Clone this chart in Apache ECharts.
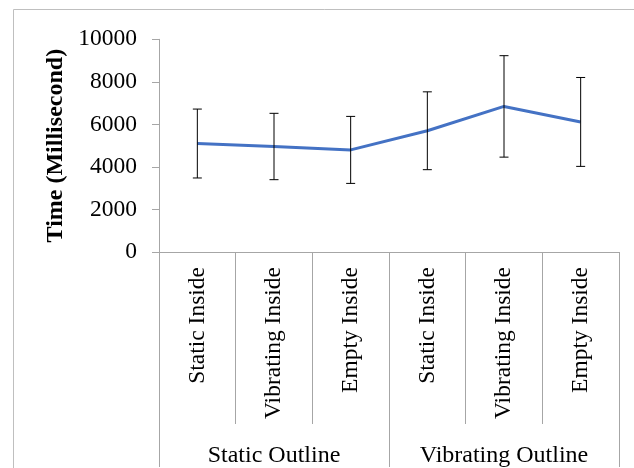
<!DOCTYPE html>
<html>
<head>
<meta charset="utf-8">
<script src="https://cdn.jsdelivr.net/npm/echarts@6/dist/echarts.min.js"></script>
<style>html,body{margin:0;padding:0;background:#fff;}#c{width:634px;height:468px;}</style>
</head>
<body>
<div id="c"></div>
<script>
const categories = ['Static Inside', 'Vibrating Inside', 'Empty Inside', 'Static Inside', 'Vibrating Inside', 'Empty Inside'];
const groups = ['Static Outline', 'Vibrating Outline'];
const means = [5100, 4960, 4800, 5700, 6845, 6115];
const errs = [1620, 1560, 1575, 1830, 2385, 2090];
const yTicks = { min: 0, max: 10000, interval: 2000 };

const FONT = '"Liberation Serif", "Times New Roman", serif';
const GREY = '#a6a6a6';

const errData = means.map((m, i) => [i, m - errs[i], m + errs[i]]);

const chart = echarts.init(document.getElementById('c'));
chart.setOption({
  animation: false,
  backgroundColor: '#fff',
  graphic: [{
    type: 'rect', left: 11, top: 7, shape: { width: 700, height: 500 },
    style: { fill: 'none', stroke: '#bfbfbf', lineWidth: 1 }, silent: true, z: -1
  }],
  grid: { left: 159, right: 15, top: 39.3, bottom: 212.7 },
  xAxis: [{
    type: 'category', data: categories, boundaryGap: true,
    axisLine: { show: true, lineStyle: { color: GREY, width: 1 } },
    axisTick: { show: true, interval: 0, length: 172, lineStyle: { color: GREY, width: 1 } },
    axisLabel: { interval: 0, rotate: 90, margin: 15, color: '#000', fontFamily: FONT, fontSize: 23.5 },
    splitLine: { show: false }
  }, {
    type: 'category', data: groups, position: 'bottom', boundaryGap: true,
    axisLine: { show: false },
    axisTick: { show: true, interval: 0, length: 215, lineStyle: { color: GREY, width: 1 } },
    axisLabel: { interval: 0, margin: 192, color: '#000', fontFamily: FONT, fontSize: 24 },
    splitLine: { show: false }
  }],
  yAxis: {
    type: 'value', min: yTicks.min, max: yTicks.max, interval: yTicks.interval,
    name: 'Time (Millisecond)', nameLocation: 'middle', nameGap: 84,
    nameTextStyle: { color: '#000', fontFamily: FONT, fontSize: 24, fontWeight: 'bold' },
    axisLine: { show: true, lineStyle: { color: GREY, width: 1 } },
    axisTick: { show: true, length: 7, lineStyle: { color: GREY, width: 1 } },
    axisLabel: { margin: 22, color: '#000', fontFamily: FONT, fontSize: 23.5, formatter: v => String(v) },
    splitLine: { show: false }
  },
  series: [{
    type: 'line', data: means, xAxisIndex: 0, symbol: 'none',
    lineStyle: { color: '#4472C4', width: 3 }, z: 2
  }, {
    type: 'custom', xAxisIndex: 0, data: errData, z: 3,
    renderItem: function (params, api) {
      const x = api.value(0);
      const lo = api.coord([x, api.value(1)]);
      const hi = api.coord([x, api.value(2)]);
      const h = 4.5;
      const st = { stroke: '#000', lineWidth: 1 };
      return {
        type: 'group', children: [
          { type: 'line', shape: { x1: lo[0], y1: lo[1], x2: hi[0], y2: hi[1] }, style: st },
          { type: 'line', shape: { x1: lo[0] - h, y1: lo[1], x2: lo[0] + h, y2: lo[1] }, style: st },
          { type: 'line', shape: { x1: hi[0] - h, y1: hi[1], x2: hi[0] + h, y2: hi[1] }, style: st }
        ]
      };
    },
    encode: { x: 0, y: [1, 2] }
  }]
});
</script>
</body>
</html>
